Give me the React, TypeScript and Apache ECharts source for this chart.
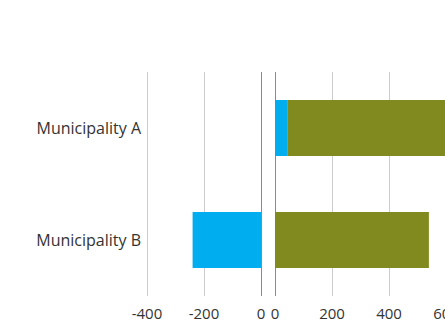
import React, { useEffect, useRef } from "react";
import * as echarts from "echarts";

const categories = ["Municipality A", "Municipality B"];
const blueValues = [45, -240];
const greenValues = [580, 540];
const leftTicks = [-400, -200, 0];
const rightTicks = [0, 200, 400, 600];

const BLUE = "#00AEEF";
const GREEN = "#808A1E";

export default function App() {
  const ref = useRef<HTMLDivElement>(null);
  useEffect(() => {
    if (!ref.current) return;
    const chart = echarts.init(ref.current, undefined, { renderer: "svg" });
    const neg = (arr: number[]) => arr.map((v) => (v < 0 ? v : 0));
    const pos = (arr: number[]) => arr.map((v) => (v > 0 ? v : 0));
    const font = "'Open Sans', 'Noto Sans', sans-serif";
    const xCommon = (min: number, max: number, colors: string[]) => ({
      type: "value" as const,
      min,
      max,
      interval: 200,
      axisLine: { show: false },
      axisTick: { show: false },
      axisLabel: { color: "#333", fontSize: 15, lineHeight: 15, fontFamily: font, margin: 9, showMinLabel: true, showMaxLabel: true },
      splitLine: { show: true, lineStyle: { color: colors, width: 1 } },
    });
    chart.setOption({
      animation: false,
      grid: [
        { left: 147, top: 72, width: 114, height: 224 },
        { left: 275, top: 72, width: 171, height: 224 },
      ],
      xAxis: [
        { gridIndex: 0, ...xCommon(leftTicks[0], leftTicks[leftTicks.length - 1], ["#cccccc", "#cccccc", "#8a8a8a"]) },
        { gridIndex: 1, ...xCommon(rightTicks[0], rightTicks[rightTicks.length - 1], ["#8a8a8a", "#cccccc", "#cccccc", "#cccccc"]) },
      ],
      yAxis: [
        {
          gridIndex: 0,
          type: "category",
          data: categories,
          inverse: true,
          axisLine: { show: false },
          axisTick: { show: false },
          axisLabel: { color: "#333", fontSize: 16, fontFamily: font, margin: 6 },
        },
        {
          gridIndex: 1,
          type: "category",
          data: categories,
          inverse: true,
          axisLine: { show: false },
          axisTick: { show: false },
          axisLabel: { show: false },
        },
      ],
      series: [
        { type: "bar", name: "blue", xAxisIndex: 0, yAxisIndex: 0, stack: "l", data: neg(blueValues), barWidth: "50%", itemStyle: { color: BLUE } },
        { type: "bar", name: "green", xAxisIndex: 0, yAxisIndex: 0, stack: "l", data: neg(greenValues), barWidth: "50%", itemStyle: { color: GREEN } },
        { type: "bar", name: "blue", xAxisIndex: 1, yAxisIndex: 1, stack: "r", data: pos(blueValues), barWidth: "50%", itemStyle: { color: BLUE } },
        { type: "bar", name: "green", xAxisIndex: 1, yAxisIndex: 1, stack: "r", data: pos(greenValues), barWidth: "50%", itemStyle: { color: GREEN } },
      ],
    });
    return () => chart.dispose();
  }, []);
  return (
    <div style={{ position: "absolute", left: 0, top: 0, width: 445, height: 321, overflow: "hidden", background: "#fff" }}>
      <div ref={ref} style={{ width: 480, height: 321 }} />
    </div>
  );
}
